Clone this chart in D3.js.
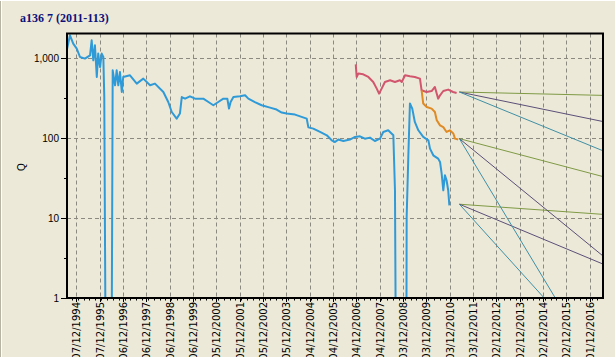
<!DOCTYPE html>
<html>
<head>
<meta charset="utf-8">
<script src="https://cdn.jsdelivr.net/npm/d3@7/dist/d3.min.js"></script>
<style>
  html, body { margin: 0; padding: 0; background: #ECE9D8; }
  svg { display: block; }
</style>
</head>
<body>
<svg id="chart" width="615" height="357"></svg>
<script>
// ---------- DATA (dates as decimal years, Q values) ----------
const title = "a136 7 (2011-113)";
const yAxisLabel = "Q";

const xTickLabels = ["07/12/1994","07/12/1995","06/12/1996","06/12/1997","06/12/1998","06/12/1999",
  "05/12/2000","05/12/2001","05/12/2002","05/12/2003","04/12/2004","04/12/2005","04/12/2006",
  "04/12/2007","03/12/2008","03/12/2009","03/12/2010","03/12/2011","02/12/2012","02/12/2013",
  "02/12/2014","02/12/2015","01/12/2016"];
const yTickValues = [1, 10, 100, 1000];

// observed flow (blue)
const blueYears = [1994.54,1994.66,1994.80,1994.95,1995.09,1995.30,1995.52,1995.59,1995.66,1995.73,
  1995.81,1995.87,1995.95,1996.02,1996.09,1996.13,1996.18,1996.23,1996.45,1996.49,
  1996.59,1996.66,1996.73,1996.80,1996.88,1996.94,1997.23,1997.52,1997.80,1998.09,
  1998.30,1998.66,1998.87,1999.02,1999.23,1999.37,1999.45,1999.59,1999.80,2000.02,
  2000.37,2000.59,2000.80,2001.01,2001.23,2001.40,2001.47,2001.54,2001.66,2001.94,
  2002.16,2002.30,2002.58,2002.87,2003.23,2003.51,2003.73,2003.94,2004.30,2004.58,
  2004.80,2004.87,2005.08,2005.37,2005.66,2005.87,2006.01,2006.15,2006.37,2006.65,
  2006.87,2007.08,2007.29,2007.51,2007.72,2007.94,2008.08,2008.29,2008.51,2008.58,
  2008.61,2009.07,2009.08,2009.15,2009.22,2009.32,2009.43,2009.58,2009.79,2010.01,
  2010.08,2010.22,2010.43,2010.51,2010.58,2010.65,2010.72,2010.79,2010.86,2010.91];
const blueQ = [1322,1939,1527,1322,1038,991,1090,1679,944,1454,
  584,1145,778,1145,1038,328,0.5,0.5,0.5,708,
  460,708,460,674,379,584,613,483,557,460,
  483,379,284,213,176,204,328,313,335,313,
  313,284,259,284,313,313,235,284,328,335,
  345,313,284,259,242,229,210,204,198,185,
  176,137,132,120,109,94.4,89.9,96.4,92.5,96.4,
  104,106,99,102,92.5,99,120,126,109,22.4,
  0.5,0.5,10.4,58.4,272,235,160,126,104,94.4,
  74.3,61.3,55.7,50.6,36.2,22.4,34.5,29.9,22.4,14.5];

// upper series (red)
const redYears = [2006.90,2006.94,2007.01,2007.22,2007.44,2007.65,2007.80,2007.90,2008.01,2008.15,
  2008.37,2008.58,2008.79,2008.87,2009.01,2009.22,2009.43,2009.65,2009.72,2009.93,
  2010.15,2010.29,2010.43,2010.51,2010.65,2010.86,2011.07,2011.22];
const redQ = [841,584,644,631,584,506,418,362,418,506,
  531,506,531,506,613,596,584,557,398,379,
  390,438,313,345,390,406,379,368];

// middle series (orange)
const orangeYears = [2009.72,2009.79,2009.94,2010.15,2010.29,2010.37,2010.51,2010.65,2010.79,2010.93,2011.08,2011.15,2011.29];
const orangeQ = [398,272,246,235,213,168,145,138,120,126,115,99,96.4];

// forecasts from three starting points
const forecastStartYear = 2011.34;
const forecastEndYear = 2017.49;
const forecastStartQ = [379, 99, 15];
const forecastEndGreen  = [344, 33.2, 11.2];
const forecastEndPurple = [162, 3.38, 2.68];
const forecastEndTeal   = [69.8, 0.103, 0.155];

// ---------- HELPERS ----------
function yearToDate(y) {
  const yr = Math.floor(y);
  const s = new Date(yr, 0, 1), e = new Date(yr + 1, 0, 1);
  return new Date(+s + (y - yr) * (e - s));
}
function parseDMY(s) {
  const [d, m, y] = s.split("/").map(Number);
  return new Date(y, m - 1, d);
}

// ---------- LAYOUT ----------
const svg = d3.select("#chart");
const W = 615, H = 357;
const plot = { left: 67, right: 603, top: 33.5, bottom: 298 };

const tickDates = xTickLabels.map(parseDMY);
const x = d3.scaleTime()
  .domain([tickDates[0], tickDates[tickDates.length - 1]])
  .range([76.3, 589.6]);
const y = d3.scaleLog()
  .domain([1, Math.pow(10, (298.3 - plot.top) / 80)])
  .range([298.3, plot.top]);

// background
svg.append("rect").attr("width", W).attr("height", H).attr("fill", "#ECE9D8");
svg.append("line").attr("x1", 0.5).attr("x2", 0.5).attr("y1", 0).attr("y2", H).attr("stroke", "#b8b4a4");
svg.append("line").attr("x1", 1.5).attr("x2", 1.5).attr("y1", 0).attr("y2", H).attr("stroke", "#ffffff");
svg.append("line").attr("x1", 0).attr("x2", W).attr("y1", 0.5).attr("y2", 0.5).attr("stroke", "#ffffff");

// title
svg.append("text")
  .attr("x", 20).attr("y", 22)
  .attr("font-family", "'Liberation Serif', 'Times New Roman', serif")
  .attr("font-weight", "bold")
  .attr("font-size", 12)
  .attr("fill", "#10107a")
  .text(title);

// y axis label
svg.append("text")
  .attr("transform", "translate(25,167) rotate(-90)")
  .attr("text-anchor", "middle")
  .attr("font-family", "'Liberation Sans', Arial, sans-serif")
  .attr("font-size", 10)
  .attr("fill", "#000")
  .text(yAxisLabel);

// clip
svg.append("clipPath").attr("id", "clip")
  .append("rect")
  .attr("x", plot.left).attr("y", plot.top)
  .attr("width", plot.right - plot.left).attr("height", plot.bottom - plot.top);

// grid
const grid = svg.append("g").attr("stroke", "#8c8a80").attr("stroke-width", 1).attr("stroke-dasharray", "4,3");
grid.selectAll("line.v").data(tickDates).enter().append("line")
  .attr("x1", d => Math.round(x(d)) + 0.5).attr("x2", d => Math.round(x(d)) + 0.5)
  .attr("y1", plot.top).attr("y2", plot.bottom);
grid.selectAll("line.h").data(yTickValues.filter(v => v > 1)).enter().append("line")
  .attr("x1", plot.left).attr("x2", plot.right)
  .attr("y1", d => Math.round(y(d)) + 0.5).attr("y2", d => Math.round(y(d)) + 0.5);

// y axis ticks + labels
const yAxis = svg.append("g");
yTickValues.forEach(v => {
  const yy = Math.round(y(v)) + 0.5;
  yAxis.append("line").attr("x1", plot.left - 6).attr("x2", plot.left).attr("y1", yy).attr("y2", yy)
    .attr("stroke", "#000");
  yAxis.append("text")
    .attr("x", plot.left - 8).attr("y", yy).attr("dy", "0.35em")
    .attr("text-anchor", "end")
    .attr("font-family", "'Liberation Sans', Arial, sans-serif")
    .attr("font-size", 10)
    .attr("fill", "#000")
    .text(d3.format(",")(v));
});
// minor y ticks (half decade)
[1, 10, 100, 1000].forEach(v => {
  const yy = Math.round(y(v * Math.sqrt(10))) + 0.5;
  if (yy > plot.top) yAxis.append("line").attr("x1", plot.left - 3).attr("x2", plot.left).attr("y1", yy).attr("y2", yy).attr("stroke", "#000");
});

// x axis ticks + labels
const xAxis = svg.append("g");
// minor quarterly ticks
const minorDates = d3.timeMonth.every(3).range(x.invert(plot.left), x.invert(plot.right));
minorDates.forEach(d => {
  const xx = Math.round(x(d)) + 0.5;
  xAxis.append("line").attr("x1", xx).attr("x2", xx).attr("y1", plot.bottom).attr("y2", plot.bottom + 2.5).attr("stroke", "#000");
});
tickDates.forEach((d, i) => {
  const xx = Math.round(x(d)) + 0.5;
  xAxis.append("line").attr("x1", xx).attr("x2", xx).attr("y1", plot.bottom).attr("y2", plot.bottom + 4).attr("stroke", "#000");
  xAxis.append("text")
    .attr("transform", `translate(${xx},${plot.bottom + 4}) rotate(-90)`)
    .attr("dy", "0.36em")
    .attr("text-anchor", "end")
    .attr("font-family", "'DejaVu Sans', Verdana, sans-serif")
    .attr("font-size", 10)
    .attr("fill", "#000")
    .text(xTickLabels[i]);
});

// series
const lineGen = d3.line()
  .x(d => x(yearToDate(d[0])))
  .y(d => y(d[1]));
const marks = svg.append("g").attr("clip-path", "url(#clip)");

function drawForecast(endVals, color) {
  forecastStartQ.forEach((q0, i) => {
    marks.append("path")
      .attr("d", lineGen([[forecastStartYear, q0], [forecastEndYear, endVals[i]]]))
      .attr("fill", "none").attr("stroke", color).attr("stroke-width", 1);
  });
}
drawForecast(forecastEndGreen, "#7f9a45");
drawForecast(forecastEndPurple, "#5b4f78");
drawForecast(forecastEndTeal, "#3f8fa5");

function drawSeries(yrs, qs, color) {
  marks.append("path")
    .attr("d", lineGen(yrs.map((t, i) => [t, qs[i]])))
    .attr("fill", "none").attr("stroke", color).attr("stroke-width", 2)
    .attr("stroke-linejoin", "round");
}
drawSeries(blueYears, blueQ, "#2f9ad8");
drawSeries(redYears, redQ, "#d2566e");
drawSeries(orangeYears, orangeQ, "#e08a24");

// plot frame
svg.append("rect")
  .attr("x", plot.left).attr("y", plot.top)
  .attr("width", plot.right - plot.left).attr("height", plot.bottom - plot.top)
  .attr("fill", "none").attr("stroke", "#000").attr("stroke-width", 2);
</script>
</body>
</html>
